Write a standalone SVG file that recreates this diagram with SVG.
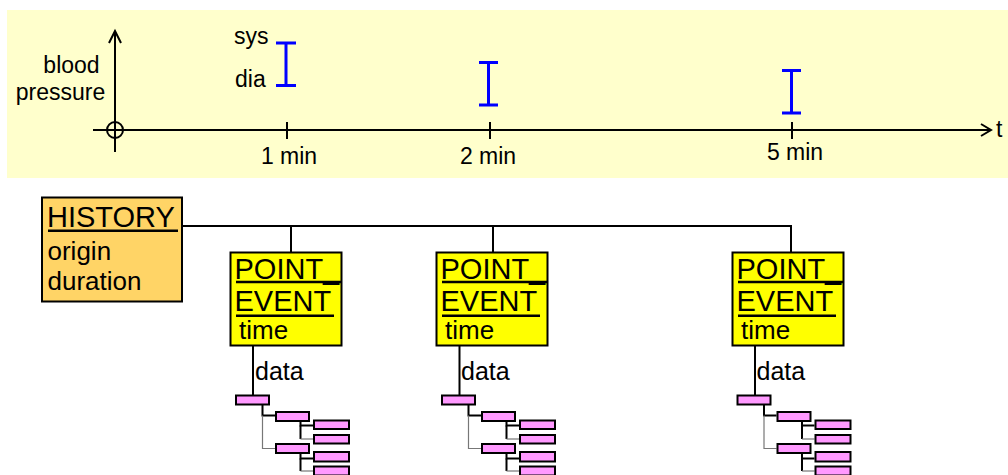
<svg xmlns="http://www.w3.org/2000/svg" width="1008" height="475" viewBox="0 0 1008 475">
<defs>
<style>
text{font-family:"Liberation Sans",Arial,sans-serif;fill:#000}
.s{font-size:23px}
.big{font-size:29px}
.mid{font-size:26px}
.ax{stroke:#000;stroke-width:2;fill:none}
.bar{stroke:#0000FF;stroke-width:3;fill:none}
.ul{stroke:#000;stroke-width:2.5}
.box{stroke:#000;stroke-width:2}
.pk{fill:#FF99FF;stroke:#000;stroke-width:2}
.ln{stroke:#000;stroke-width:2;fill:none}
.gl{stroke:#777;stroke-width:1.2;fill:none}
</style>
<g id="tree">
<rect class="pk" x="1" y="1" width="33" height="9"/>
<path class="ln" d="M27.5 10V21H40"/>
<path class="gl" d="M27.5 21V54H40"/>
<rect class="pk" x="41" y="17.5" width="33" height="9"/>
<rect class="pk" x="41" y="49.5" width="33" height="9"/>
<path class="ln" d="M65.5 26.5V31H78"/>
<path class="ln" d="M65.5 31V44.5"/>
<path class="gl" d="M65.5 44.5H78"/>
<rect class="pk" x="79" y="26" width="35" height="8.5"/>
<rect class="pk" x="79" y="40.5" width="35" height="8.5"/>
<path class="ln" d="M65.5 58.5V64H78"/>
<path class="ln" d="M65.5 64V76.5"/>
<path class="gl" d="M65.5 76.5H78"/>
<rect class="pk" x="79" y="57.5" width="35" height="9.5"/>
<rect class="pk" x="79" y="72" width="35" height="9"/>
</g>
</defs>
<g id="timeline">
<rect x="7" y="10" width="1001" height="168" fill="#FFFFCC"/>
<line class="ax" x1="115" y1="31" x2="115" y2="152"/>
<polyline class="ax" points="109,43 115,31 121,43"/>
<line class="ax" x1="93" y1="130" x2="991" y2="130"/>
<polyline class="ax" points="981,124 991,130 981,136"/>
<circle class="ax" cx="115" cy="130" r="8"/>
<line class="ax" x1="287" y1="122" x2="287" y2="139"/>
<line class="ax" x1="490" y1="122" x2="490" y2="139"/>
<line class="ax" x1="792" y1="122" x2="792" y2="139"/>
<text class="s" x="996" y="137">t</text>
<text class="s" x="289" y="164" text-anchor="middle">1 min</text>
<text class="s" x="488" y="164" text-anchor="middle">2 min</text>
<text class="s" x="795" y="160" text-anchor="middle">5 min</text>
<text class="s" x="71.5" y="73" text-anchor="middle">blood</text>
<text class="s" x="60.5" y="100" text-anchor="middle">pressure</text>
<text class="s" x="234" y="44">sys</text>
<text class="s" x="235" y="87">dia</text>
<path class="bar" d="M276 43H296M286 43V85.5M276 85.5H296"/>
<path class="bar" d="M479 62.5H498M488.5 62.5V105M479 105H498"/>
<path class="bar" d="M782 70.5H801M791.5 70.5V113M782 113H801"/>
</g>
<g id="connectors">
<path class="ln" d="M182 226H792"/>
<path class="ln" d="M291 226V252"/>
<path class="ln" d="M493 226V252"/>
<path class="ln" d="M791 226V252"/>
<path class="ln" d="M253 346V395"/>
<path class="ln" d="M459.5 346V395"/>
<path class="ln" d="M755 346V395"/>
<text class="s" x="255" y="380" style="font-size:25px">data</text>
<text class="s" x="461" y="380" style="font-size:25px">data</text>
<text class="s" x="756.5" y="380" style="font-size:25px">data</text>
</g>
<g id="history">
<rect class="box" x="42" y="197.5" width="140" height="104" fill="#FFD466"/>
<text class="big" x="47" y="226.5">HISTORY</text>
<line class="ul" x1="48" y1="230.7" x2="178" y2="230.7"/>
<text class="mid" x="47.5" y="260">origin</text>
<text class="mid" x="47.5" y="289.5">duration</text>
</g>
<g id="point_event_1" transform="translate(229.5,0)">
<rect class="box" x="1" y="252.5" width="111" height="93" fill="#FFFF00"/>
<text class="big" x="5" y="279.3">POINT_</text>
<line class="ul" x1="6.5" y1="282" x2="112" y2="282"/>
<text class="big" x="5" y="310.7">EVENT</text>
<line class="ul" x1="6.5" y1="315.7" x2="104.5" y2="315.7"/>
<text class="mid" x="9.5" y="338.5">time</text>
</g>
<g id="point_event_2" transform="translate(435.5,0)">
<rect class="box" x="1" y="252.5" width="111" height="93" fill="#FFFF00"/>
<text class="big" x="5" y="279.3">POINT_</text>
<line class="ul" x1="6.5" y1="282" x2="112" y2="282"/>
<text class="big" x="5" y="310.7">EVENT</text>
<line class="ul" x1="6.5" y1="315.7" x2="104.5" y2="315.7"/>
<text class="mid" x="9.5" y="338.5">time</text>
</g>
<g id="point_event_3" transform="translate(731.5,0)">
<rect class="box" x="1" y="252.5" width="111" height="93" fill="#FFFF00"/>
<text class="big" x="5" y="279.3">POINT_</text>
<line class="ul" x1="6.5" y1="282" x2="112" y2="282"/>
<text class="big" x="5" y="310.7">EVENT</text>
<line class="ul" x1="6.5" y1="315.7" x2="104.5" y2="315.7"/>
<text class="mid" x="9.5" y="338.5">time</text>
</g>
<g id="data_tree_1" transform="translate(235,394.5)"><use href="#tree"/></g>
<g id="data_tree_2" transform="translate(441,394.5)"><use href="#tree"/></g>
<g id="data_tree_3" transform="translate(736.5,394.5)"><use href="#tree"/></g>
</svg>
